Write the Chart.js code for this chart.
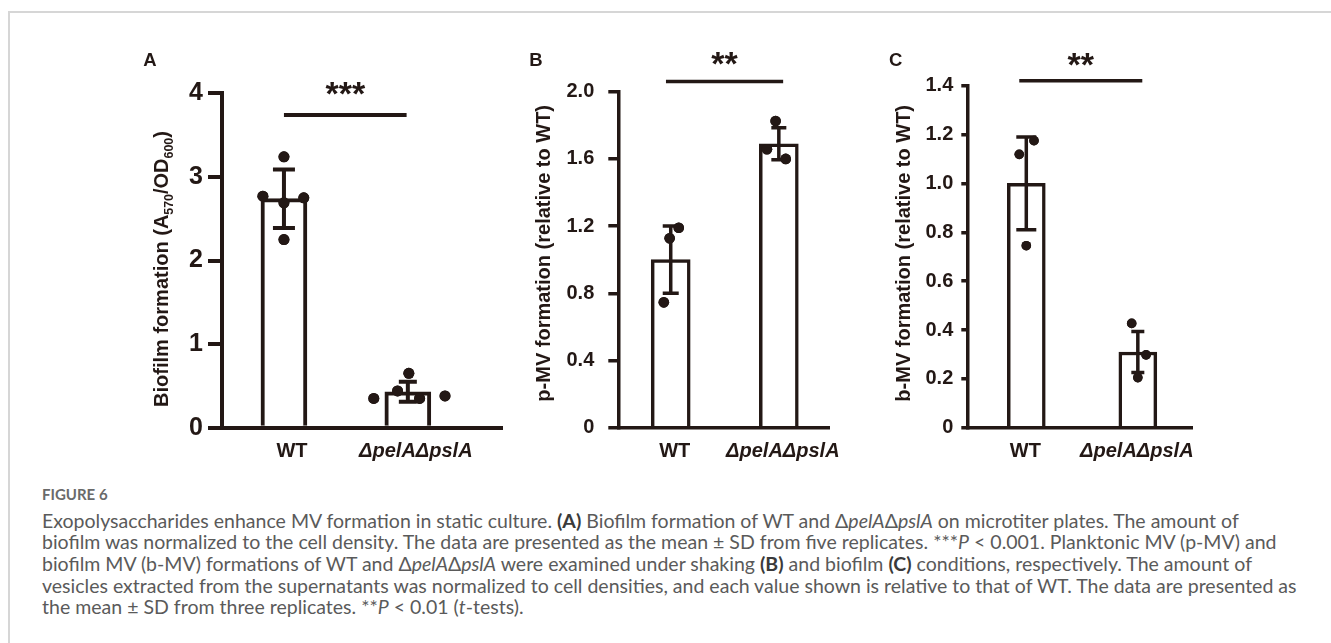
<!DOCTYPE html>
<html><head><meta charset="utf-8">
<script src="https://cdn.jsdelivr.net/npm/chart.js@4.4.1/dist/chart.umd.min.js"></script>
<style>
html,body{margin:0;padding:0;background:#fff;}
body{width:1331px;height:643px;position:relative;overflow:hidden;}
.frame-top{position:absolute;left:8px;top:11px;right:0;height:0;border-top:2px solid #d6d6d6;}
.frame-left{position:absolute;left:8px;top:11px;bottom:0;width:0;border-left:2px solid #d6d6d6;}
canvas{position:absolute;}
.fig{position:absolute;left:42px;top:485px;font:700 15px 'Lato';color:#6a6a6a;white-space:nowrap;}
.cap{position:absolute;left:42px;top:509.6px;font-family:'Lato';font-size:17px;line-height:21.7px;color:#5a5a5a;}
.cap div{white-space:nowrap;}
.cap b{color:#3a3a3a;font-weight:700;}
</style></head><body>
<div class="frame-top"></div><div class="frame-left"></div>
<canvas id="cA"></canvas><canvas id="cB"></canvas><canvas id="cC"></canvas>
<div class="fig">FIGURE 6</div>
<div class="cap" id="cap">
<div id="l1">Exopolysaccharides enhance MV formation in static culture. <b>(A)</b> Biofilm formation of WT and Δ<i>pelA</i>Δ<i>pslA</i> on microtiter plates. The amount of</div>
<div>biofilm was normalized to the cell density. The data are presented as the mean ± SD from five replicates. ***<i>P</i> &lt; 0.001. Planktonic MV (p-MV) and</div>
<div>biofilm MV (b-MV) formations of WT and Δ<i>pelA</i>Δ<i>pslA</i> were examined under shaking <b>(B)</b> and biofilm <b>(C)</b> conditions, respectively. The amount of</div>
<div>vesicles extracted from the supernatants was normalized to cell densities, and each value shown is relative to that of WT. The data are presented as</div>
<div>the mean ± SD from three replicates. **<i>P</i> &lt; 0.01 (<i>t</i>-tests).</div>
</div>
<script>
// ---------------- DATA ----------------
const categories = ['WT', 'ΔpelAΔpslA'];

// Panel A: Biofilm formation (A570/OD600), five replicates
const aTicks = [0, 1, 2, 3, 4];
const aMeans = [2.74, 0.43];
const aSD = [0.35, 0.12];
const aWTValues = [3.24, 2.77, 2.69, 2.75, 2.25];
const aWTJitter = [0, -0.17, 0, 0.16, 0];
const aMutValues = [0.35, 0.44, 0.65, 0.35, 0.38];
const aMutJitter = [-0.275, -0.083, 0.008, 0.095, 0.30];
const aSigLevel = 3.74;
const aSigLabel = '***';

// Panel B: p-MV formation (relative to WT), three replicates
const bTicks = [0, 0.4, 0.8, 1.2, 1.6, 2.0];
const bMeans = [1.0, 1.69];
const bSD = [0.2, 0.095];
const bWTValues = [1.19, 1.127, 0.746];
const bWTJitter = [0.074, -0.01, -0.064];
const bMutValues = [1.826, 1.657, 1.60];
const bMutJitter = [-0.03, -0.11, 0.064];
const bSigLevel = 2.06;
const bSigLabel = '**';

// Panel C: b-MV formation (relative to WT), three replicates
const cTicks = [0, 0.2, 0.4, 0.6, 0.8, 1.0, 1.2, 1.4];
const cMeans = [1.0, 0.31];
const cSD = [0.19, 0.084];
const cWTValues = [1.119, 1.175, 0.745];
const cWTJitter = [-0.063, 0.069, 0];
const cMutValues = [0.427, 0.298, 0.205];
const cMutJitter = [-0.055, 0.074, 0];
const cSigLevel = 1.42;
const cSigLabel = '**';

// ---------------- STYLE ----------------
const INK = '#231815';
const FONT = "'Liberation Sans', Arial, Helvetica, sans-serif";
Chart.defaults.font.family = FONT;

const panels = [
  { id:'cA', letter:'A', letterPos:[143.3, 66],
    box:{left:100, top:20, w:420, h:450}, area:{left:222, top:93.3, right:502, bottom:427.7},
    xMin:-0.5, xMax:1.76, yMax:4, ticks:aTicks, decimals:false, labelOffset:8,
    tickLen:14, tickPad:5, tickFont:25, lineW:4, barW:46, caps:[22,18], dotR:5.5,
    means:aMeans, sd:aSD, wt:aWTValues, wtJ:aWTJitter, mut:aMutValues, mutJ:aMutJitter,
    sig:aSigLevel, sigLabel:aSigLabel, sigFrom:0, sigTo:0.99, starOff:27, starFont:34,
    title:[['Biofilm formation (A',0],['570',1],['/OD',0],['600',1],[')',0]], titleC:[161, 269], titleFont:20 },
  { id:'cB', letter:'B', letterPos:[529.3, 66],
    box:{left:520, top:20, w:330, h:450}, area:{left:618.3, top:91.7, right:840, bottom:427.7},
    xMin:-0.485, xMax:1.47, yMax:2.0, ticks:bTicks, decimals:true, labelOffset:4,
    tickLen:10, tickPad:14, tickFont:20, lineW:3.5, barW:39, caps:[16,15], dotR:5.3,
    means:bMeans, sd:bSD, wt:bWTValues, wtJ:bWTJitter, mut:bMutValues, mutJ:bMutJitter,
    sig:bSigLevel, sigLabel:bSigLabel, sigFrom:-0.044, sigTo:1.04, starOff:23.4, starFont:34,
    title:[['p-MV formation (relative to WT)',0]], titleC:[543.3, 253.3], titleFont:20 },
  { id:'cC', letter:'C', letterPos:[889, 66],
    box:{left:860, top:20, w:360, h:450}, area:{left:967.3, top:85.7, right:1192.7, bottom:427.7},
    xMin:-0.529, xMax:1.492, yMax:1.4, ticks:cTicks, decimals:true, labelOffset:-1,
    tickLen:6, tickPad:8, tickFont:20, lineW:3.5, barW:38, caps:[20,13], dotR:4.8,
    means:cMeans, sd:cSD, wt:cWTValues, wtJ:cWTJitter, mut:cMutValues, mutJ:cMutJitter,
    sig:cSigLevel, sigLabel:cSigLabel, sigFrom:-0.063, sigTo:1.04, starOff:21.5, starFont:34,
    title:[['b-MV formation (relative to WT)',0]], titleC:[902.5, 253.3], titleFont:20 }
];

const decorPlugin = {
  id: 'decor',
  afterDatasetsDraw(chart, args, o) {
    const p = o.p; const ctx = chart.ctx;
    const xs = chart.scales.x, ys = chart.scales.y;
    ctx.save();
    ctx.strokeStyle = INK; ctx.lineWidth = p.lineW; ctx.lineCap = 'butt';
    p.means.forEach((m, i) => {
      const x = xs.getPixelForValue(i);
      const yt = ys.getPixelForValue(m + p.sd[i]);
      const yb = ys.getPixelForValue(m - p.sd[i]);
      const cw = p.caps[i] / 2;
      ctx.beginPath();
      ctx.moveTo(x, yt); ctx.lineTo(x, yb);
      ctx.moveTo(x - cw, yt); ctx.lineTo(x + cw, yt);
      ctx.moveTo(x - cw, yb); ctx.lineTo(x + cw, yb);
      ctx.stroke();
    });
    const meta = chart.getDatasetMeta(1);
    meta.data.forEach(pt => pt.draw(ctx));
    ctx.restore();
  },
  afterDraw(chart, args, o) {
    const p = o.p; const ctx = chart.ctx;
    const xs = chart.scales.x, ys = chart.scales.y;
    const ox = p.box.left, oy = p.box.top;
    ctx.save();
    ctx.fillStyle = INK; ctx.strokeStyle = INK;
    const sy = ys.getPixelForValue(p.sig);
    const x1 = xs.getPixelForValue(p.sigFrom), x2 = xs.getPixelForValue(p.sigTo);
    ctx.lineWidth = p.lineW;
    ctx.beginPath(); ctx.moveTo(x1, sy); ctx.lineTo(x2, sy); ctx.stroke();
    ctx.font = 'bold ' + p.starFont + 'px ' + FONT;
    ctx.textAlign = 'center'; ctx.textBaseline = 'alphabetic';
    const mt = ctx.measureText(p.sigLabel);
    const cy = sy - p.starOff;
    ctx.fillText(p.sigLabel, (x1 + x2) / 2, cy + (mt.actualBoundingBoxAscent - mt.actualBoundingBoxDescent) / 2);
    ctx.textAlign = 'left';
    ctx.font = 'bold 18.5px ' + FONT;
    ctx.fillText(p.letter, p.letterPos[0] - ox, p.letterPos[1] - oy);
    const fs = p.titleFont, sub = fs * 0.62;
    ctx.translate(p.titleC[0] - ox, p.titleC[1] - oy);
    ctx.rotate(-Math.PI / 2);
    let total = 0;
    p.title.forEach(([t, s]) => { ctx.font = 'bold ' + (s ? sub : fs) + 'px ' + FONT; total += ctx.measureText(t).width; });
    let x = -total / 2;
    const base = fs * 0.716 / 2;
    p.title.forEach(([t, s]) => {
      ctx.font = 'bold ' + (s ? sub : fs) + 'px ' + FONT;
      ctx.fillText(t, x, s ? base + fs * 0.22 : base);
      x += ctx.measureText(t).width;
    });
    ctx.restore();
  }
};

function makePanel(p) {
  const cv = document.getElementById(p.id);
  cv.width = p.box.w; cv.height = p.box.h;
  cv.style.left = p.box.left + 'px'; cv.style.top = p.box.top + 'px';
  cv.style.width = p.box.w + 'px'; cv.style.height = p.box.h + 'px';
  const padTop = p.area.top - p.box.top;
  const padRight = p.box.left + p.box.w - p.area.right;
  const yWidth = p.area.left - p.box.left;
  const xHeight = p.box.top + p.box.h - p.area.bottom;
  const pts = p.wt.map((v, k) => ({x: 0 + p.wtJ[k], y: v}))
    .concat(p.mut.map((v, k) => ({x: 1 + p.mutJ[k], y: v})));
  new Chart(cv, {
    type: 'bar',
    data: {
      datasets: [
        { type:'bar', data: p.means.map((m, i) => ({x: i, y: m})),
          backgroundColor:'#ffffff', borderColor: INK, borderWidth: p.lineW,
          barThickness: p.barW, borderSkipped:'bottom', order: 2 },
        { type:'scatter', data: pts, pointRadius: p.dotR, pointBackgroundColor: INK,
          pointBorderWidth: 0, showLine:false, order: 1 }
      ]
    },
    options: {
      responsive:false, animation:false, events:[], devicePixelRatio:1,
      layout:{ padding:{ top: padTop, right: padRight, left: 0, bottom: 0 } },
      plugins:{ legend:{display:false}, tooltip:{enabled:false}, decor:{ p } },
      scales:{
        x:{ type:'linear', min:p.xMin, max:p.xMax, offset:false,
          afterFit: s => { s.height = xHeight; },
          afterBuildTicks: s => { s.ticks = categories.map((c, i) => ({value: i})); },
          grid:{ display:false, drawTicks:false, offset:false },
          border:{ display:true, color:INK, width:p.lineW },
          ticks:{ padding: 12, maxRotation:0, autoSkip:false, color:INK, labelOffset: p.labelOffset,
            callback: v => categories[v],
            font: ctx => ({ family: FONT, size: 20, weight:'bold', style: ctx.index === 1 ? 'italic' : 'normal' }) } },
        y:{ type:'linear', min:0, max:p.yMax,
          afterFit: s => { s.width = yWidth; },
          afterBuildTicks: s => { s.ticks = p.ticks.map(v => ({value: v})); },
          grid:{ drawOnChartArea:false, drawTicks:true, tickLength:p.tickLen, color:INK, lineWidth:p.lineW },
          border:{ display:true, color:INK, width:p.lineW },
          ticks:{ padding:p.tickPad, color:INK, font:{ family: FONT, size: p.tickFont, weight:'bold' },
            callback: v => v === 0 ? '0' : (p.decimals ? v.toFixed(1) : String(v)) } }
      }
    },
    plugins:[decorPlugin]
  });
}
panels.forEach(makePanel);

// fit caption font so the first line spans as in the figure
(function fitCaption(){
  const l1 = document.getElementById('l1');
  const cap = document.getElementById('cap');
  const r = document.createRange(); r.selectNodeContents(l1);
  const w = r.getBoundingClientRect().width;
  const target = 1197;
  const fs = 17 * target / w;
  cap.style.fontSize = fs.toFixed(2) + 'px';
})();
</script>
</body></html>
